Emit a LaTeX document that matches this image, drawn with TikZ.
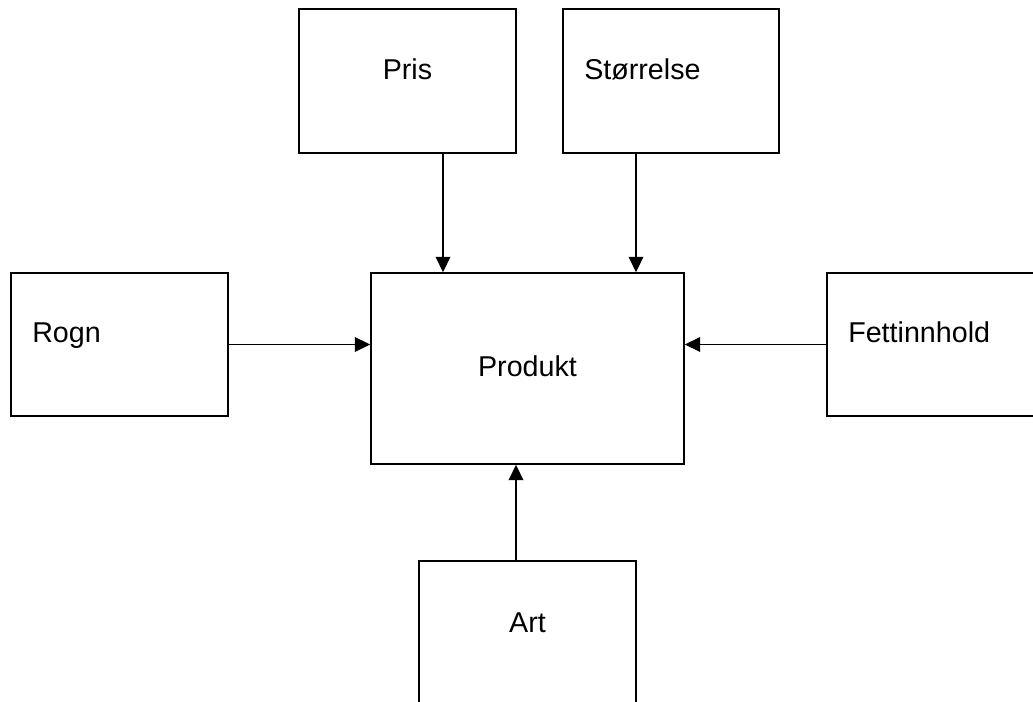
\documentclass[tikz,border=0pt]{standalone}
\usepackage{fontspec}
\setmainfont{Liberation Sans}
\usetikzlibrary{arrows.meta}

\begin{document}
\begin{tikzpicture}[x=0.75pt,y=-0.75pt,
  box/.style={draw,line width=1.3pt,rectangle,inner sep=0pt},
  lbl/.style={inner sep=0pt,font=\fontsize{21.5}{26}\selectfont},
  arr/.style={line width=1.3pt,-{Triangle[length=11.5pt,width=11pt]}}]
\useasboundingbox (0,0) rectangle (1033,702);

\node[box,minimum width=162.75pt,minimum height=108pt] (pris) at (407.5,81) {};
\node[box,minimum width=162pt,minimum height=108pt] (stor) at (671,81) {};

\node[box,minimum width=162.75pt,minimum height=107.25pt] (rogn) at (119.5,344.5) {};
\node[box,minimum width=234.75pt,minimum height=143.25pt] (prod) at (527.5,368.5) {};
\node[box,minimum width=180pt,minimum height=107.25pt] (fett) at (947,344.5) {};

\node[box,minimum width=162.75pt,minimum height=108pt] (art) at (527.5,633) {};

\node[lbl,anchor=base] (prisT) at (407.5,80) {Pris};
\node[lbl,anchor=base west] (storT) at (584,80) {Størrelse};
\node[lbl,anchor=base west] (rognT) at (32,343) {Rogn};
\node[lbl,anchor=base] (prodT) at (527.5,377) {Produkt};
\node[lbl,anchor=base west] (fettT) at (848,343) {Fettinnhold};
\node[lbl,anchor=base] (artT) at (527.5,633) {Art};

\draw[arr] (pris.south -| 443,0) -- (prod.north -| 443,0);
\draw[arr] (stor.south -| 636,0) -- (prod.north -| 636,0);
\draw[arr] (rogn.east) -- (prod.west |- rogn.east);
\draw[arr] (fett.west) -- (prod.east |- fett.west);
\draw[arr] (art.north -| 516,0) -- (prod.south -| 516,0);
\end{tikzpicture}
\end{document}
